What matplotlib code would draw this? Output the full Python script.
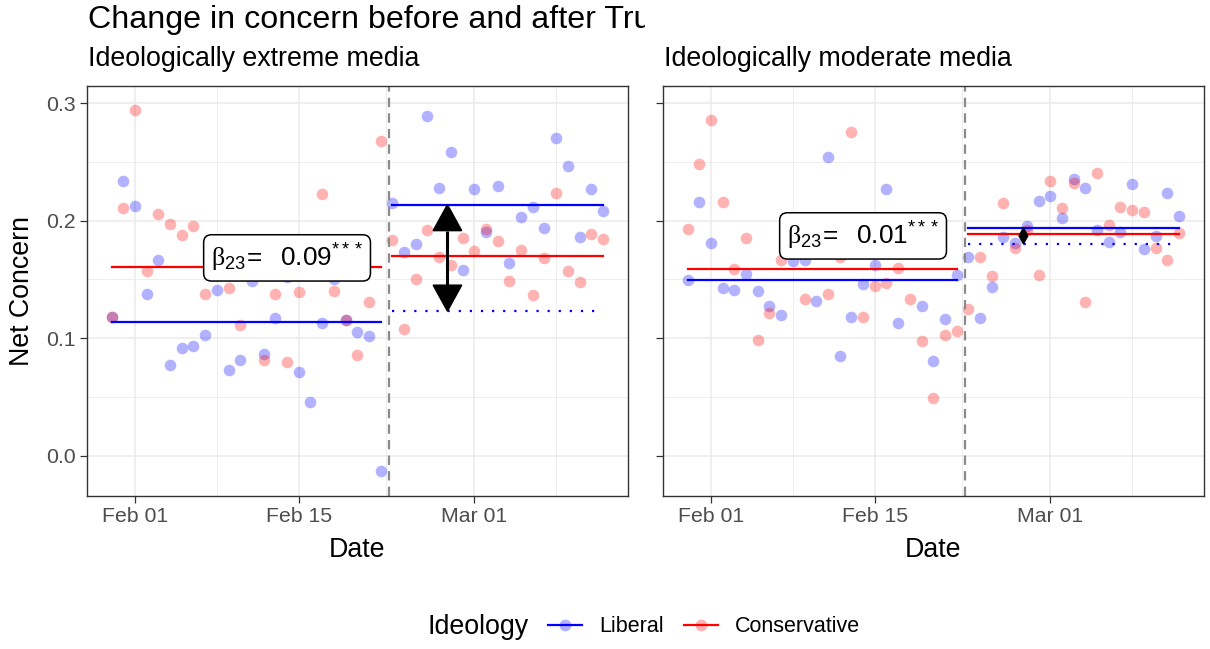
import numpy as np
import pandas as pd
import matplotlib
matplotlib.use('Agg')
import matplotlib.pyplot as plt
import matplotlib.dates as mdates
from matplotlib.lines import Line2D
from matplotlib.ticker import FixedLocator, FormatStrFormatter
from matplotlib.transforms import Bbox, TransformedBbox

plt.rcParams['font.family'] = ['Liberation Sans', 'DejaVu Sans']
plt.rcParams['mathtext.fontset'] = 'custom'
plt.rcParams['mathtext.rm'] = 'Liberation Sans'
plt.rcParams['mathtext.it'] = 'Liberation Sans:italic'
plt.rcParams['mathtext.bf'] = 'Liberation Sans:bold'
plt.rcParams['mathtext.sf'] = 'Liberation Serif'

# dias antes y despues del evento
pre_dates = pd.date_range('2020-01-30', '2020-02-22')
post_dates = pd.date_range('2020-02-23', '2020-03-12')
event_time = pd.Timestamp('2020-02-22 17:00')
label_date = pd.Timestamp('2020-02-14')
arrow_offset = pd.Timedelta(days=5)
stars = '***'

# medios ideologicamente extremos
ext_lib_pre = [0.118, 0.234, 0.2125, 0.138, 0.1666, 0.0775, 0.092, 0.0936, 0.103, 0.141,
               0.073, 0.0814, 0.1487, 0.0865, 0.117, 0.152, 0.0715, 0.0457, 0.113, 0.150,
               0.1155, 0.1056, 0.102, -0.0128]
ext_con_pre = [0.118, 0.211, 0.294, 0.157, 0.206, 0.197, 0.188, 0.1955, 0.138, 0.168,
               0.1425, 0.111, 0.162, 0.0814, 0.138, 0.0797, 0.139, 0.164, 0.2228, 0.1405,
               0.1155, 0.086, 0.131, 0.268]
ext_lib_post = [0.2148, 0.1734, 0.180, 0.2894, 0.2279, 0.2585, 0.158, 0.2267, 0.190, 0.2296,
                0.1643, 0.2035, 0.212, 0.194, 0.2701, 0.2469, 0.1859, 0.227, 0.2085]
ext_con_post = [0.1836, 0.1078, 0.1507, 0.1918, 0.1691, 0.162, 0.1856, 0.1745, 0.193, 0.1827,
                0.149, 0.1748, 0.1365, 0.1683, 0.2233, 0.1572, 0.1481, 0.1887, 0.1848]

# medios ideologicamente moderados
mod_lib_pre = [0.1492, 0.2157, 0.1808, 0.1427, 0.141, 0.1544, 0.1405, 0.1271, 0.120, 0.1657,
               0.1666, 0.132, 0.2545, 0.0848, 0.1183, 0.1461, 0.1623, 0.227, 0.1132, 0.178,
               0.1274, 0.0809, 0.1163, 0.1538]
mod_con_pre = [0.1932, 0.2483, 0.286, 0.2157, 0.1589, 0.1853, 0.0985, 0.1218, 0.1666, 0.180,
               0.1331, 0.178, 0.138, 0.1694, 0.2752, 0.118, 0.1447, 0.1467, 0.1595, 0.1334,
               0.0979, 0.0488, 0.1025, 0.1065]
mod_lib_post = [0.1694, 0.1172, 0.1439, 0.1862, 0.1811, 0.1958, 0.2165, 0.2213, 0.2026, 0.2353,
                0.2279, 0.1921, 0.1822, 0.1904, 0.2316, 0.1762, 0.1873, 0.2233, 0.2043]
mod_con_post = [0.1246, 0.1689, 0.1527, 0.2151, 0.1771, 0.192, 0.1535, 0.2336, 0.2111, 0.2318,
                0.1306, 0.2406, 0.1964, 0.212, 0.2091, 0.2074, 0.1771, 0.1666, 0.1896]

panel_titles = ['Ideologically extreme media', 'Ideologically moderate media']
panel_data = [(ext_lib_pre, ext_con_pre, ext_lib_post, ext_con_post),
              (mod_lib_pre, mod_con_pre, mod_lib_post, mod_con_post)]
group_labels = ['Liberal', 'Conservative']
y_ticks = [0.0, 0.1, 0.2, 0.3]
x_ticks = ['2020-02-01 00:00', '2020-02-15 00:00', '2020-03-01 00:00']
x_minor = ['2020-02-08 00:00', '2020-02-22 12:00', '2020-03-08 00:00']

LIB = '#0000FF'
CON = '#FF0000'
W, H = 1210, 649

fig = plt.figure(figsize=(W / 100, H / 100), dpi=100)

def px_box(x0, x1, y0, y1):
    return [x0 / W, 1 - y1 / H, (x1 - x0) / W, (y1 - y0) / H]

def effect_arrow(ax, x, y_from, y_to, head=26.0):
    # flecha doble con cabezas rellenas; se achican si el tramo es corto
    to_px = ax.transData.transform
    to_data = ax.transData.inverted().transform
    (px, py0), (_, py1) = to_px([(x, y_from), (x, y_to)])
    L = min(head, abs(py1 - py0) / 2)
    hw = 0.55 * L
    s = np.sign(py1 - py0)
    for tip, d in [(py1, -s), (py0, s)]:
        tri = to_data([(px, tip), (px - hw, tip + d * L), (px + hw, tip + d * L)])
        ax.fill(tri[:, 0], tri[:, 1], fc='black', ec='black', lw=1.0, zorder=4)
    stem = to_data([(px, py0 + s * L), (px, py1 - s * L)])
    ax.plot(stem[:, 0], stem[:, 1], color='black', lw=2.2, zorder=4,
            solid_capstyle='butt')

axes = [fig.add_axes(px_box(87, 627.5, 86, 496)),
        fig.add_axes(px_box(663, 1203.5, 86, 496))]

all_dates = pre_dates.append(post_dates)
d0, d1 = mdates.date2num(all_dates[0]), mdates.date2num(all_dates[-1])
xpad = (d1 - d0) * 0.05

for k, (ax, (lib_pre, con_pre, lib_post, con_post)) in enumerate(zip(axes, panel_data)):
    ax.set_xlim(d0 - xpad, d1 + xpad)
    ax.set_ylim(-0.0343, 0.3147)

    # puntos diarios
    for series, dates, col in [(lib_pre, pre_dates, LIB), (lib_post, post_dates, LIB),
                               (con_pre, pre_dates, CON), (con_post, post_dates, CON)]:
        ax.scatter(dates, series, s=70, color=col, alpha=0.3, linewidths=0, zorder=2)

    m_lib_pre, m_con_pre = np.mean(lib_pre), np.mean(con_pre)
    m_lib_post, m_con_post = np.mean(lib_post), np.mean(con_post)
    counterfactual = m_lib_pre + (m_con_post - m_con_pre)
    beta = m_lib_post - counterfactual

    # medias por periodo
    ax.plot([pre_dates[0], pre_dates[-1]], [m_con_pre] * 2, color=CON, lw=1.6, zorder=3)
    ax.plot([pre_dates[0], pre_dates[-1]], [m_lib_pre] * 2, color=LIB, lw=1.6, zorder=3)
    ax.plot([post_dates[0], post_dates[-1]], [m_con_post] * 2, color=CON, lw=1.6, zorder=3)
    ax.plot([post_dates[0], post_dates[-1]], [m_lib_post] * 2, color=LIB, lw=1.6, zorder=3)
    ax.plot([post_dates[0], post_dates[-1]], [counterfactual] * 2, color=LIB, lw=1.6,
            ls=(0, (1, 4)), zorder=3)

    ax.axvline(event_time, color='#8A8A8A', lw=1.6, ls=(0, (4.2, 2.8)), zorder=2.5)

    effect_arrow(ax, mdates.date2num(event_time + arrow_offset), counterfactual, m_lib_post)

    ax.text(mdates.date2num(label_date), (m_lib_post + counterfactual) / 2,
            r'$\mathsf{β}_{23}\!=\ \ \mathrm{%.2f}^{%s}$' % (beta, stars),
            ha='center', va='center', fontsize=18.8, zorder=5,
            bbox=dict(boxstyle='round,pad=0.27,rounding_size=0.3', fc='white',
                      ec='black', lw=1.1))

    # estilo del panel
    ax.yaxis.set_major_locator(FixedLocator(y_ticks))
    ax.yaxis.set_minor_locator(FixedLocator([0.05, 0.15, 0.25]))
    ax.yaxis.set_major_formatter(FormatStrFormatter('%.1f'))
    ax.xaxis.set_major_locator(FixedLocator(mdates.date2num(pd.to_datetime(x_ticks))))
    ax.xaxis.set_minor_locator(FixedLocator(mdates.date2num(pd.to_datetime(x_minor))))
    ax.xaxis.set_major_formatter(mdates.DateFormatter('%b %d'))
    ax.grid(which='major', color='#EBEBEB', lw=1.1)
    ax.grid(which='minor', color='#EBEBEB', lw=0.6)
    ax.set_axisbelow(True)
    ax.tick_params(which='major', length=5, width=0.9, color='#333333',
                   labelcolor='#4D4D4D', labelsize=15.3, pad=3)
    ax.tick_params(which='minor', length=0)
    for sp in ax.spines.values():
        sp.set_color('#333333')
        sp.set_linewidth(1.0)
    if k == 1:
        ax.tick_params(axis='y', labelleft=False)

    pos = ax.get_position()
    fig.text(pos.x0 + 1 / W, 1 - 66 / H, panel_titles[k], fontsize=19.3, va='baseline')
    fig.text(pos.x0 + pos.width / 2, 1 - 557 / H, 'Date', fontsize=19.3,
             ha='center', va='baseline')

fig.text(22 / W, 1 - 291 / H, 'Net Concern', fontsize=19.3, rotation=90,
         ha='center', va='center')

title = fig.text(88 / W, 1 - 28 / H, 'Change in concern before and after Trump',
                 fontsize=23.2, va='baseline')
title.set_clip_box(TransformedBbox(Bbox.from_extents(0, 0, 645 / W, 1), fig.transFigure))
title.set_clip_on(True)

# leyenda
fig.text(427 / W, 1 - 627 / H, 'Ideology', fontsize=19.3, va='center')
handles = [Line2D([], [], color=c, lw=1.6, marker='o', markersize=8.5,
                  markerfacecolor=(*matplotlib.colors.to_rgb(c), 0.3), markeredgewidth=0)
           for c in [LIB, CON]]
fig.legend(handles, group_labels, loc='center left', bbox_to_anchor=(548 / W, 1 - 627 / H),
           ncol=2, frameon=False, fontsize=15.5, handlelength=1.6, handletextpad=0.8,
           columnspacing=0.9, borderpad=0, borderaxespad=0)

fig.savefig('out.png', dpi=100)
